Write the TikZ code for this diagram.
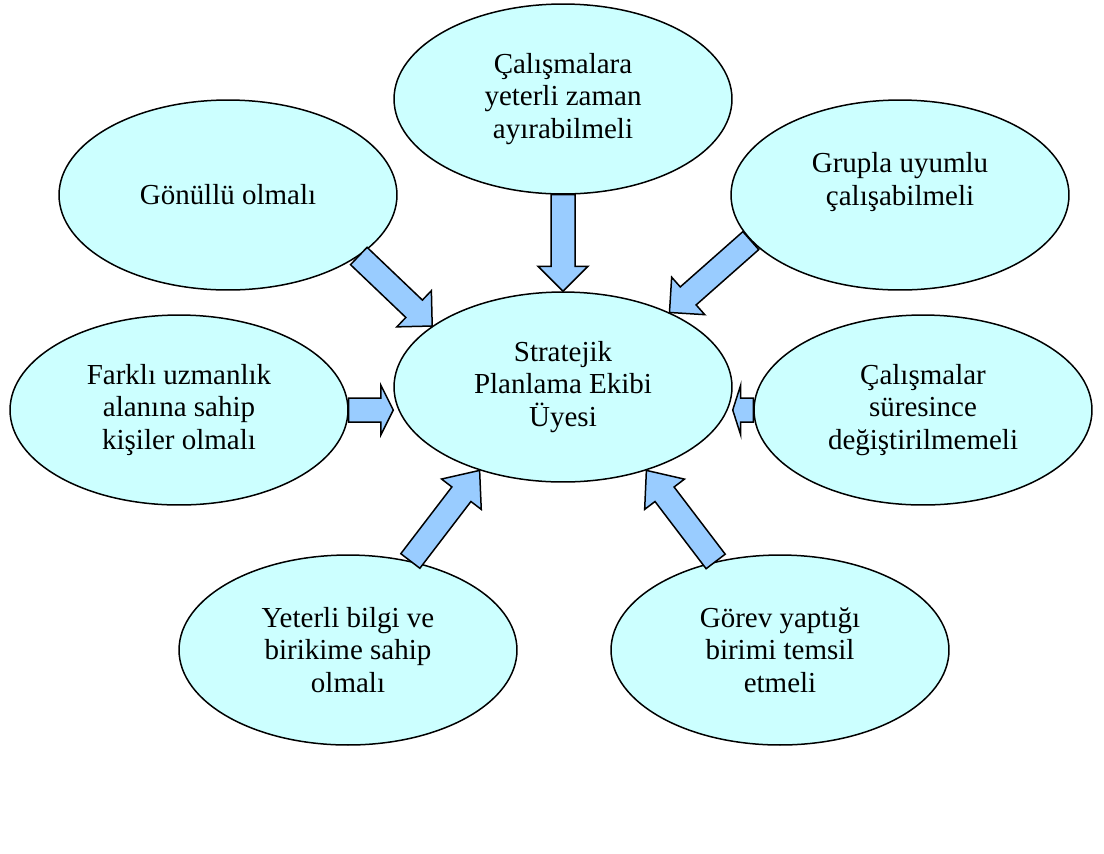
\documentclass[tikz,border=0pt]{standalone}
\usepackage{fontspec}
\setmainfont{Liberation Serif}
\usepackage{tikz}
\usetikzlibrary{shapes.geometric, calc}
\usepackage{xcolor}
\definecolor{bubblecyan}{RGB}{204, 255, 255}
\definecolor{arrowblue}{RGB}{153, 204, 255}

\tikzset{
  bubble/.style={ellipse, draw=black, line width=0.03cm, fill=bubblecyan,
    minimum width=6.76cm, minimum height=3.8cm, inner sep=0pt, align=center,
    font=\fontsize{16.5}{18.6}\selectfont},
  fatarrow/.style={draw=black, line width=0.03cm, fill=arrowblue, line join=miter}
}

% block arrow from #1 to #2, head length #3
\newcommand{\blockarrow}[3]{%
  \path (#1) coordinate (ba-s) (#2) coordinate (ba-e);
  \coordinate (ba-h) at ($(ba-e)!#3!(ba-s)$);
  \draw[fatarrow] ($(ba-s)!0.24cm!90:(ba-e)$) -- ($(ba-h)!0.24cm!90:(ba-e)$)
    -- ($(ba-h)!0.5cm!90:(ba-e)$) -- (ba-e) -- ($(ba-h)!0.5cm!-90:(ba-e)$)
    -- ($(ba-h)!0.24cm!-90:(ba-e)$) -- ($(ba-s)!0.24cm!-90:(ba-e)$) -- cycle;
}

\begin{document}
\begin{tikzpicture}[x=0.02cm, y=-0.02cm]
    \useasboundingbox (0,0) rectangle (1104,853);

    \node[bubble] (mid) at (563,387) {Stratejik\\Planlama Ekibi\\Üyesi};
    \node[bubble] (top) at (563,99) {Çalışmalara\\yeterli zaman\\ayırabilmeli};
    \node[bubble] (gon) at (228,195) {Gönüllü olmalı};
    \node[bubble] (grup) at (900,195) {Grupla uyumlu\\çalışabilmeli\\\mbox{}};
    \node[bubble] (far) at (179,410) {Farklı uzmanlık\\alanına sahip\\kişiler olmalı};
    \node[bubble] (cal) at (923,410) {Çalışmalar\\süresince\\değiştirilmemeli};
    \node[bubble] (yet) at (348,650) {Yeterli bilgi ve\\birikime sahip\\olmalı};
    \node[bubble] (gor) at (780,650) {Görev yaptığı\\birimi temsil\\etmeli};

    \coordinate (ltip) at (far.east -| mid.west);
    \coordinate (rtip) at (cal.west -| mid.east);

    \blockarrow{top.south}{mid.north}{0.5cm}
    \blockarrow{gon.-25}{mid.155}{0.5cm}
    \blockarrow{grup.197}{mid.35}{0.5cm}
    \blockarrow{far.east}{ltip}{0.25cm}
    \blockarrow{cal.west}{rtip}{0.16cm}
    \blockarrow{yet.55}{mid.225}{0.6cm}
    \blockarrow{gor.126}{mid.-45}{0.6cm}
\end{tikzpicture}
\end{document}
